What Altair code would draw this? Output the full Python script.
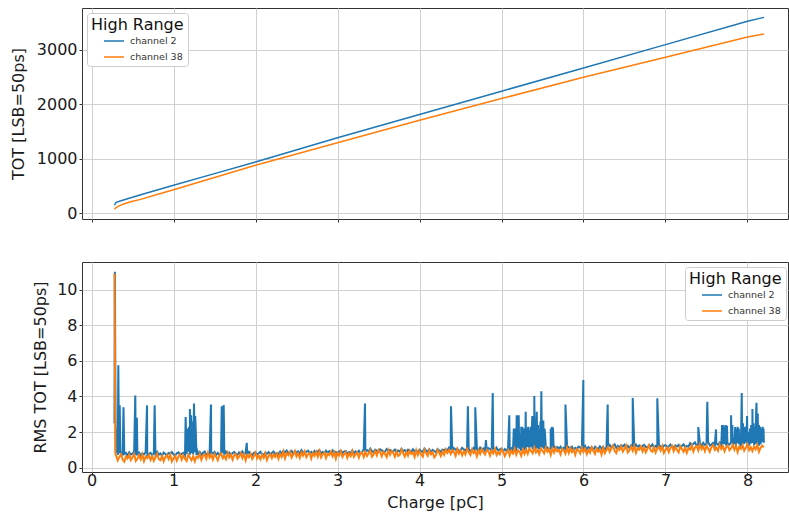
import altair as alt
import numpy as np
import pandas as pd

FONT = "DejaVu Sans"
SERIES = ["channel 2", "channel 38"]
COLORS = ["#1f77b4", "#ff7f0e"]

# ---------------- top panel: TOT vs charge ----------------
tot_x = [0.28, 0.30, 0.35, 0.40, 0.50, 0.60, 0.80, 1.0, 1.5, 2.0, 3.0, 4.0, 5.0, 6.0, 7.0, 8.0, 8.2]
tot_ch2 = [145, 195, 222, 245, 290, 335, 422, 509, 724, 937, 1384, 1811, 2239, 2666, 3095, 3523, 3596]
tot_ch38 = [68, 100, 140, 171, 215, 251, 340, 428, 653, 877, 1292, 1706, 2104, 2495, 2862, 3235, 3290]

# ---------------- bottom panel: RMS TOT vs charge ----------------
# readings every 0.02 pC starting at 0.30 pC
grid_start = 0.30
grid_step = 0.02
rms_ch2_base = [
    # 0.30 - 1.28
    0.84, 0.72, 0.80, 0.88, 0.70, 0.77, 0.83, 0.69, 0.86, 0.74,
    0.79, 0.90, 0.71, 0.76, 0.85, 0.68, 0.81, 0.75, 0.87, 0.72,
    0.78, 0.84, 0.70, 0.82, 0.76, 0.89, 0.73, 0.80, 0.67, 0.85,
    0.77, 0.71, 0.83, 0.79, 0.88, 0.74, 0.69, 0.81, 0.86, 0.72,
    0.78, 0.84, 0.70, 0.76, 0.90, 0.73, 0.82, 0.75, 0.87, 0.71,
    # 1.30 - 2.28
    0.77, 0.88, 0.73, 0.84, 0.91, 0.71, 0.82, 0.75, 0.87, 0.79,
    0.89, 0.72, 0.83, 0.70, 0.86, 0.81, 0.74, 0.90, 0.76, 0.85,
    0.71, 0.82, 0.88, 0.77, 0.73, 0.86, 0.79, 0.91, 0.72, 0.83,
    0.75, 0.89, 0.78, 0.70, 0.84, 0.87, 0.74, 0.81, 0.90, 0.76,
    0.72, 0.85, 0.79, 0.88, 0.71, 0.83, 0.91, 0.75, 0.82, 0.77,
    # 2.30 - 3.28
    0.91, 0.78, 0.94, 0.85, 0.97, 0.81, 0.88, 0.95, 0.76, 0.92,
    0.84, 0.93, 0.80, 0.99, 0.86, 0.79, 0.90, 0.96, 0.82, 0.89,
    0.77, 0.94, 0.83, 0.92, 0.98, 0.81, 0.89, 0.78, 0.95, 0.85,
    0.93, 0.80, 0.97, 0.84, 0.88, 0.76, 0.91, 0.96, 0.82, 0.90,
    0.94, 0.79, 0.88, 0.83, 0.97, 0.81, 0.92, 0.85, 0.95, 0.78,
    # 3.30 - 4.28
    0.88, 1.04, 0.92, 0.99, 0.90, 1.07, 0.93, 0.87, 1.01, 0.95,
    0.89, 1.03, 0.98, 0.86, 0.91, 1.05, 0.96, 1.00, 0.88, 0.94,
    1.02, 0.84, 0.97, 0.90, 1.06, 0.93, 0.99, 0.87, 1.01, 0.95,
    0.89, 1.04, 0.92, 0.98, 0.85, 1.02, 0.93, 0.88, 1.07, 0.96,
    0.91, 1.03, 0.86, 1.00, 0.94, 0.87, 1.05, 0.97, 0.89, 1.01,
    # 4.30 - 5.28
    0.99, 1.04, 0.97, 1.13, 1.05, 0.93, 1.10, 1.01, 1.07, 0.94,
    0.98, 1.12, 1.03, 0.96, 1.09, 1.06, 0.92, 1.00, 1.11, 0.97,
    1.05, 0.94, 1.13, 1.01, 1.08, 0.95, 0.99, 1.10, 1.04, 0.93,
    1.07, 0.98, 1.12, 0.96, 1.03, 1.08, 0.92, 1.05, 0.94, 1.11,
    1.01, 1.09, 0.97, 1.04, 0.93, 1.13, 1.06, 0.95, 1.10, 0.99,
    # 5.30 - 6.28
    1.01, 1.18, 1.08, 1.15, 1.04, 1.20, 1.06, 1.11, 1.02, 1.17,
    1.13, 1.05, 1.19, 1.14, 0.99, 1.11, 1.07, 1.20, 1.03, 1.16,
    1.08, 1.18, 1.01, 1.12, 1.04, 1.21, 1.15, 1.06, 1.17, 1.00,
    1.12, 1.05, 1.19, 1.13, 1.02, 1.09, 1.22, 1.03, 1.16, 1.07,
    1.15, 0.99, 1.18, 1.11, 1.04, 1.20, 1.08, 1.17, 1.01, 1.14,
    # 6.30 - 7.28
    1.17, 1.28, 1.13, 1.24, 1.31, 1.11, 1.22, 1.15, 1.27, 1.19,
    1.29, 1.12, 1.23, 1.10, 1.26, 1.21, 1.14, 1.30, 1.16, 1.25,
    1.11, 1.22, 1.28, 1.17, 1.13, 1.26, 1.19, 1.31, 1.12, 1.23,
    1.15, 1.29, 1.18, 1.10, 1.24, 1.27, 1.14, 1.21, 1.30, 1.16,
    1.12, 1.25, 1.19, 1.28, 1.11, 1.23, 1.31, 1.15, 1.22, 1.17,
    # 7.30 - 8.18
    1.38, 1.26, 1.34, 1.42, 1.24, 1.31, 1.37, 1.23, 1.40, 1.28,
    1.33, 1.44, 1.25, 1.30, 1.39, 1.22, 1.35, 1.29, 1.41, 1.26,
    1.32, 1.38, 1.24, 1.36, 1.30, 1.43, 1.27, 1.34, 1.21, 1.39,
    1.31, 1.25, 1.37, 1.33, 1.42, 1.28, 1.23, 1.35, 1.40, 1.26,
    1.32, 1.38, 1.24, 1.30, 1.44,
]
rms_ch38_base = [
    # 0.30 - 1.28
    0.68, 0.41, 0.61, 0.76, 0.46, 0.34, 0.64, 0.52, 0.73, 0.43,
    0.58, 0.77, 0.38, 0.50, 0.70, 0.47, 0.75, 0.36, 0.62, 0.54,
    0.72, 0.44, 0.65, 0.39, 0.59, 0.78, 0.48, 0.42, 0.67, 0.37,
    0.60, 0.71, 0.49, 0.74, 0.35, 0.53, 0.66, 0.40, 0.63, 0.76,
    0.45, 0.69, 0.51, 0.38, 0.73, 0.57, 0.42, 0.65, 0.36, 0.62,
    # 1.30 - 2.28
    0.55, 0.79, 0.44, 0.67, 0.75, 0.50, 0.84, 0.57, 0.72, 0.46,
    0.77, 0.61, 0.42, 0.70, 0.81, 0.53, 0.66, 0.48, 0.83, 0.58,
    0.74, 0.45, 0.69, 0.78, 0.51, 0.62, 0.82, 0.54, 0.76, 0.41,
    0.71, 0.59, 0.80, 0.49, 0.65, 0.84, 0.52, 0.68, 0.47, 0.73,
    0.56, 0.81, 0.43, 0.66, 0.77, 0.54, 0.75, 0.60, 0.79, 0.50,
    # 2.30 - 3.28
    0.78, 0.61, 0.91, 0.53, 0.82, 0.70, 0.88, 0.57, 0.74, 0.94,
    0.63, 0.80, 0.55, 0.86, 0.68, 0.92, 0.59, 0.75, 0.84, 0.52,
    0.81, 0.67, 0.89, 0.62, 0.93, 0.58, 0.77, 0.85, 0.54, 0.79,
    0.71, 0.90, 0.64, 0.87, 0.51, 0.83, 0.69, 0.92, 0.60, 0.76,
    0.88, 0.56, 0.80, 0.65, 0.93, 0.61, 0.74, 0.86, 0.57, 0.82,
    # 3.30 - 4.28
    0.86, 0.60, 0.89, 0.66, 0.81, 0.97, 0.62, 0.75, 0.93, 0.69,
    1.00, 0.87, 0.64, 0.90, 0.77, 0.59, 0.98, 0.73, 0.95, 0.84,
    0.61, 0.91, 0.66, 0.72, 1.02, 0.83, 0.63, 0.89, 0.68, 0.96,
    0.78, 0.86, 0.60, 0.99, 0.71, 0.94, 0.74, 0.62, 1.01, 0.82,
    0.67, 0.97, 0.76, 0.88, 0.58, 0.70, 1.00, 0.85, 0.65, 0.92,
    # 4.30 - 5.28
    0.73, 1.02, 0.83, 0.98, 0.77, 1.00, 0.89, 0.66, 1.04, 0.79,
    0.96, 0.70, 0.91, 0.75, 1.07, 0.88, 0.72, 1.03, 0.82, 0.94,
    0.64, 0.99, 0.77, 1.05, 0.85, 0.74, 1.01, 0.92, 0.68, 0.97,
    0.81, 1.06, 0.71, 0.89, 0.76, 1.04, 0.93, 0.65, 0.84, 1.00,
    0.69, 0.95, 0.80, 1.07, 0.73, 0.98, 0.90, 0.67, 1.02, 0.78,
    # 5.30 - 6.28
    1.03, 0.78, 1.07, 0.95, 0.82, 1.14, 0.86, 1.01, 0.77, 1.09,
    0.97, 0.81, 1.13, 0.90, 1.04, 0.72, 1.08, 0.85, 1.11, 0.92,
    1.00, 0.75, 1.06, 0.98, 0.79, 1.14, 0.83, 1.10, 0.88, 1.02,
    0.73, 1.05, 0.96, 0.80, 1.13, 0.89, 1.07, 0.76, 1.01, 0.84,
    1.15, 0.95, 0.78, 1.09, 0.91, 1.03, 0.74, 1.12, 0.82, 0.99,
    # 6.30 - 7.28
    1.16, 0.89, 1.09, 1.24, 0.94, 0.82, 1.12, 1.00, 1.21, 0.91,
    1.06, 1.25, 0.86, 0.98, 1.18, 0.95, 1.23, 0.84, 1.10, 1.02,
    1.20, 0.92, 1.13, 0.87, 1.07, 1.26, 0.96, 0.90, 1.15, 0.85,
    1.08, 1.19, 0.97, 1.22, 0.83, 1.01, 1.14, 0.88, 1.11, 1.24,
    0.93, 1.17, 0.99, 0.86, 1.21, 1.05, 0.90, 1.13, 0.84, 1.10,
    # 7.30 - 8.18
    1.02, 1.26, 0.91, 1.14, 1.22, 0.97, 1.31, 1.04, 1.19, 0.93,
    1.24, 1.08, 0.89, 1.17, 1.28, 1.00, 1.13, 0.95, 1.30, 1.05,
    1.21, 0.92, 1.16, 1.25, 0.98, 1.09, 1.29, 1.01, 1.23, 0.88,
    1.18, 1.06, 1.27, 0.96, 1.12, 1.31, 0.99, 1.15, 0.94, 1.20,
    1.03, 1.28, 0.90, 1.13, 1.24,
]

# onset and end points
rms_ch2_edge_x = [0.28, 0.285, 0.295, 8.20]
rms_ch2_edge_y = [2.5, 11.0, 0.9, 1.40]
rms_ch38_edge_x = [0.28, 0.292, 8.20]
rms_ch38_edge_y = [10.9, 0.75, 1.15]

# channel 2 spikes / bursts
spike_x = [
    0.318, 0.327, 0.335, 0.344, 0.352, 0.39, 0.534, 0.553, 0.677, 0.77,
    1.148, 1.158, 1.17, 1.178, 1.19, 1.20, 1.21, 1.215, 1.225, 1.235, 1.25, 1.258, 1.265, 1.272, 1.28,
    1.457, 1.588, 1.60, 1.612, 1.893, 3.335,
    4.384, 4.59, 4.68, 4.81, 4.893, 5.095,
    5.15, 5.155, 5.16, 5.165, 5.17, 5.175, 5.185, 5.19, 5.20, 5.205, 5.21, 5.215, 5.225, 5.23,
    5.24, 5.245, 5.255, 5.26, 5.27, 5.275, 5.285, 5.29, 5.295, 5.30, 5.31, 5.315, 5.325, 5.33,
    5.34, 5.345, 5.355, 5.36, 5.37, 5.376, 5.385, 5.40, 5.405, 5.415, 5.42, 5.43, 5.435, 5.445,
    5.45, 5.46, 5.465, 5.475, 5.48, 5.486, 5.492, 5.50, 5.505, 5.51, 5.515, 5.525, 5.53, 5.54,
    5.60, 5.605, 5.615, 5.62, 5.628, 5.635,
    5.78, 5.998, 6.295, 6.60, 6.90, 7.40, 7.51, 7.616,
    7.69, 7.695, 7.705, 7.71, 7.72, 7.725, 7.735, 7.74, 7.75, 7.755, 7.80, 7.805, 7.815, 7.82,
    7.85, 7.855, 7.865, 7.87, 7.88, 7.885, 7.895, 7.90, 7.93, 7.935, 7.945, 7.95, 7.965, 7.97,
    7.98, 7.985, 7.995, 8.00, 8.01, 8.015, 8.03, 8.035, 8.045, 8.05, 8.06, 8.065, 8.075, 8.08,
    8.09, 8.095, 8.105, 8.11, 8.115, 8.125, 8.13, 8.14, 8.145, 8.155, 8.16, 8.17, 8.175, 8.185,
    8.19, 8.195,
]
spike_y = [
    2.2, 5.75, 1.0, 3.5, 0.9, 3.4, 4.05, 2.8, 3.5, 3.5,
    2.84, 1.0, 2.2, 1.1, 2.3, 3.3, 1.2, 2.95, 1.5, 2.6, 3.6, 1.3, 2.9, 2.0, 1.1,
    3.55, 3.45, 1.5, 3.52, 1.4, 3.6,
    3.45, 3.45, 3.4, 1.55, 4.2, 2.95,
    2.2, 1.3, 2.1, 1.4, 2.2, 1.2, 2.95, 1.5, 2.2, 1.3, 2.95, 1.4, 1.9, 1.2,
    2.3, 1.4, 2.3, 1.3, 2.2, 1.5, 1.9, 1.2, 3.14, 1.4, 2.2, 1.3, 2.3, 1.5,
    2.1, 1.3, 2.3, 1.4, 2.2, 2.9, 1.5, 4.02, 1.6, 2.5, 1.3, 3.14, 1.5, 2.4,
    1.4, 2.1, 1.3, 2.6, 1.5, 4.3, 1.4, 2.3, 1.6, 2.65, 1.3, 2.2, 1.95, 1.2,
    2.2, 1.3, 2.3, 1.4, 2.25, 1.2,
    3.55, 4.92, 3.55, 3.92, 3.9, 2.28, 3.7, 2.15,
    2.4, 1.5, 2.4, 1.4, 2.3, 1.5, 2.4, 1.6, 2.35, 1.4, 2.95, 1.5, 2.4, 1.6,
    2.28, 1.5, 2.2, 1.6, 2.3, 1.5, 2.2, 1.4, 4.2, 1.6, 2.5, 1.5, 2.3, 1.6,
    2.2, 1.5, 2.9, 1.6, 2.0, 1.5, 2.2, 1.6, 2.4, 1.5, 3.3, 1.6, 2.5, 1.5,
    2.3, 1.6, 3.1, 3.65, 1.6, 3.05, 1.5, 2.4, 1.7, 2.3, 1.6, 2.2, 1.5, 2.3,
    1.6, 2.2,
]

# ---------------- build tables ----------------
top_df = pd.concat([
    pd.DataFrame({"charge": tot_x, "value": tot_ch2, "series": SERIES[0]}),
    pd.DataFrame({"charge": tot_x, "value": tot_ch38, "series": SERIES[1]}),
])

g2 = np.round(grid_start + grid_step * np.arange(len(rms_ch2_base)), 3)
g38 = np.round(grid_start + grid_step * np.arange(len(rms_ch38_base)), 3)
b2 = pd.DataFrame({"charge": list(g2) + rms_ch2_edge_x + spike_x,
                   "value": rms_ch2_base + rms_ch2_edge_y + spike_y})
b2 = b2.sort_values("charge", kind="stable")
b2["series"] = SERIES[0]
b38 = pd.DataFrame({"charge": list(g38) + rms_ch38_edge_x,
                    "value": rms_ch38_base + rms_ch38_edge_y})
b38 = b38.sort_values("charge", kind="stable")
b38["series"] = SERIES[1]
bot_df = pd.concat([b2, b38]).reset_index(drop=True)
bot_df["idx"] = np.arange(len(bot_df))

W = 706
X_DOMAIN = [-0.116, 8.494]
XTICKS = [0, 1, 2, 3, 4, 5, 6, 7, 8]


def legend(x, y):
    return alt.Legend(
        orient="none", legendX=x, legendY=y, title="High Range",
        titleFontSize=16, titleFont=FONT, titleFontWeight="normal", titleColor="#111",
        titlePadding=-3, labelFontSize=9.5, labelFont=FONT, labelColor="#333",
        symbolType="stroke", symbolSize=400, symbolStrokeWidth=1.5,
        symbolOffset=12, labelOffset=5, padding=4, rowPadding=-7,
        strokeColor="#cccccc", fillColor="white", cornerRadius=3,
    )


color_scale = alt.Scale(domain=SERIES, range=COLORS)

top = alt.Chart(top_df).mark_line(strokeWidth=1.5, clip=True).encode(
    x=alt.X("charge:Q", scale=alt.Scale(domain=X_DOMAIN, nice=False, zero=False),
            axis=alt.Axis(labels=False, title=None, values=XTICKS)),
    y=alt.Y("value:Q", scale=alt.Scale(domain=[-110, 3768], nice=False, zero=False),
            axis=alt.Axis(title="TOT [LSB=50ps]", values=[0, 1000, 2000, 3000], format="d",
                          titleX=-59, titleBaseline="alphabetic")),
    color=alt.Color("series:N", scale=color_scale, legend=legend(5, 5)),
).properties(width=W, height=211)

bottom = alt.Chart(bot_df).mark_line(strokeWidth=2, clip=True).encode(
    x=alt.X("charge:Q", scale=alt.Scale(domain=X_DOMAIN, nice=False, zero=False),
            axis=alt.Axis(title="Charge [pC]", values=XTICKS, format="d",
                          labelPadding=-3, titlePadding=6)),
    y=alt.Y("value:Q", scale=alt.Scale(domain=[-0.24, 11.55], nice=False, zero=False),
            axis=alt.Axis(title="RMS TOT [LSB=50ps]", values=[0, 2, 4, 6, 8, 10],
                          titleX=-37, titleBaseline="alphabetic")),
    color=alt.Color("series:N", scale=color_scale, legend=legend(603, 5)),
    order="idx:Q",
).properties(width=W, height=210)

chart = alt.vconcat(top, bottom, spacing=38).resolve_scale(color="independent").properties(
    padding={"left": 9, "top": 7, "right": 0, "bottom": 0}
).configure(font=FONT).configure_view(
    stroke="#333333", strokeWidth=1
).configure_axis(
    grid=True, gridColor="#d0d0d0", gridWidth=1, domain=False,
    tickColor="#333333", tickSize=3, labelPadding=2,
    labelFontSize=16, titleFontSize=16, labelFont=FONT, titleFont=FONT,
    labelColor="#1a1a1a", titleColor="#1a1a1a", titleFontWeight="normal",
)

chart.save("out.html", embed_options={"renderer": "svg", "actions": False})
